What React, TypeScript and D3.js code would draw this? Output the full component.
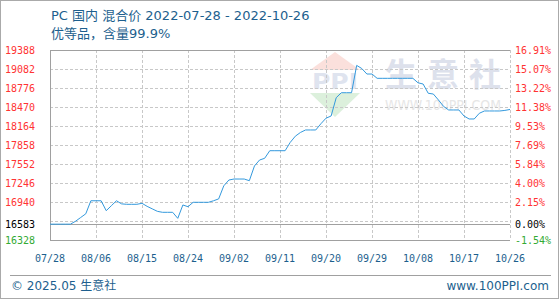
import React from "react";
import * as d3 from "d3";

const startDate = "2022-07-28";
const endDate = "2022-10-26";
const baseValue = 16583;
const yMin = 16328;
const yMax = 19388;
const yTickValues = [19388, 19082, 18776, 18470, 18164, 17858, 17552, 17246, 16940];
const xTickLabels = ["07/28", "08/06", "08/15", "08/24", "09/02", "09/11", "09/20", "09/29", "10/08", "10/17", "10/26"];
const prices = [
  16583, 16583, 16583, 16583, 16583, 16630, 16690, 16750, 16960, 16960,
  16960, 16800, 16880, 16960, 16910, 16903, 16903, 16903, 16919, 16870,
  16830, 16790, 16774, 16774, 16774, 16677, 16892, 16864, 16935, 16935,
  16935, 16935, 16960, 16990, 17200, 17294, 17310, 17310, 17310, 17283,
  17520, 17616, 17644, 17766, 17766, 17766, 17766, 17900, 18000, 18060,
  18100, 18100, 18100, 18200, 18290, 18325, 18620, 18700, 18700, 18700,
  19140, 19090, 19001, 19001, 18932, 18932, 18932, 18932, 18932, 18932,
  18932, 18932, 18860, 18840, 18691, 18679, 18583, 18480, 18422, 18422,
  18422, 18325, 18277, 18277, 18369, 18406, 18406, 18406, 18406, 18415,
  18430,
];

const L = 50, R = 510, T = 50, B = 240;
const mono = "'DejaVu Sans Mono', monospace";
const sans = "'DejaVu Sans', 'Noto Sans CJK SC', sans-serif";

export default function App() {
  const parse = d3.timeParse("%Y-%m-%d");
  const t0 = parse(startDate)!;
  const t1 = parse(endDate)!;
  const x = d3.scaleTime().domain([t0, t1]).range([L, R]);
  const y = d3.scaleLinear().domain([yMin, yMax]).range([B, T]);
  const data = prices.map((v, i) => ({ d: d3.timeDay.offset(t0, i), v }));
  const line = d3.line<{ d: Date; v: number }>().x((p) => x(p.d)).y((p) => y(p.v));
  const xTicks = xTickLabels.map((lab, i) => ({ lab, d: d3.timeDay.offset(t0, i * 9) }));
  const pct = (v: number) => (((v - baseValue) / baseValue) * 100).toFixed(2) + "%";
  const gridYs = [...yTickValues, 16634];
  const red = "#ff3333";
  const green = "#33aa33";
  return (
    <svg width={560} height={300} style={{ position: "fixed", left: 0, top: 0, background: "#fff" }}>
      <rect x={0.5} y={0.5} width={558} height={298} fill="#fff" stroke="#aaa" />
      {/* watermark */}
      <g>
        <polygon points="335,52 310,70 360,70" fill="#fbe0dc" />
        <text x={335} y={89} textAnchor="middle" fontSize={22} fontWeight="bold" fontFamily={sans} fill="#dfe4ef" textLength={46} lengthAdjust="spacingAndGlyphs">PPI</text>
        <polygon points="310,93 360,93 335,117" fill="#dcf0dc" />
        <text x={385} y={86} fontSize={32} fontWeight="bold" fontFamily={sans} fill="#dde1ec" textLength={116}>生意社</text>
        <text x={385} y={110} fontSize={14} fontFamily={sans} fill="#e6e6e6" textLength={116} lengthAdjust="spacingAndGlyphs">WWW.100PPI.COM</text>
      </g>
      <text x={51} y={20} fontSize={13} fontFamily={sans} fill="#1d5f8e">PC 国内 混合价 {startDate} - {endDate}</text>
      <text x={51} y={38} fontSize={13} fontFamily={sans} fill="#1d5f8e">优等品，含量99.9%</text>
      {/* grid */}
      {gridYs.map((v) => (
        <line key={v} x1={L} x2={R} y1={Math.round(y(v)) + 0.5} y2={Math.round(y(v)) + 0.5} stroke="#c8c8c8" strokeDasharray="3,2" />
      ))}
      {xTicks.map((t) => (
        <line key={t.lab} x1={Math.round(x(t.d)) + 0.5} x2={Math.round(x(t.d)) + 0.5} y1={T} y2={B} stroke="#c8c8c8" strokeDasharray="3,2" />
      ))}
      <line x1={L} x2={R} y1={T + 0.5} y2={T + 0.5} stroke="#a0a0a0" />
      <line x1={L + 0.5} x2={L + 0.5} y1={T} y2={B} stroke="#a0a0a0" />
      <line x1={L} x2={R} y1={B + 0.5} y2={B + 0.5} stroke="#a0a0a0" />
      <line x1={L} x2={R} y1={Math.round(y(baseValue)) + 0.5} y2={Math.round(y(baseValue)) + 0.5} stroke="#a0a0a0" />
      <path d={line(data) || ""} fill="none" stroke="#3399dd" strokeWidth={1} />
      {/* left axis */}
      {yTickValues.map((v) => (
        <text key={v} x={35} y={y(v)} dy="0.35em" textAnchor="end" fontSize={10} fontFamily={mono} fill={red}>{v}</text>
      ))}
      <text x={35} y={y(baseValue)} dy="0.35em" textAnchor="end" fontSize={10} fontFamily={mono} fill="#000">{baseValue}</text>
      <text x={35} y={y(yMin)} dy="0.35em" textAnchor="end" fontSize={10} fontFamily={mono} fill={green}>{yMin}</text>
      {/* right axis */}
      {yTickValues.map((v) => (
        <text key={v} x={515} y={y(v)} dy="0.35em" fontSize={10} fontFamily={mono} fill={red}>{pct(v)}</text>
      ))}
      <text x={515} y={y(baseValue)} dy="0.35em" fontSize={10} fontFamily={mono} fill="#000">{pct(baseValue)}</text>
      <text x={515} y={y(yMin)} dy="0.35em" fontSize={10} fontFamily={mono} fill={green}>{pct(yMin)}</text>
      {/* x labels */}
      {xTicks.map((t) => (
        <text key={t.lab} x={x(t.d)} y={262} textAnchor="middle" fontSize={10} fontFamily={mono} fill="#1d5f8e">{t.lab}</text>
      ))}
      <line x1={10} x2={551} y1={275.5} y2={275.5} stroke="#a0a0a0" />
      <text x={11} y={290} fontSize={12} fontFamily={sans} fill="#1d5f8e">© 2025.05 生意社</text>
      <text x={549} y={290} textAnchor="end" fontSize={12} fontFamily={sans} fill="#1d5f8e">www.100PPI.com</text>
    </svg>
  );
}
